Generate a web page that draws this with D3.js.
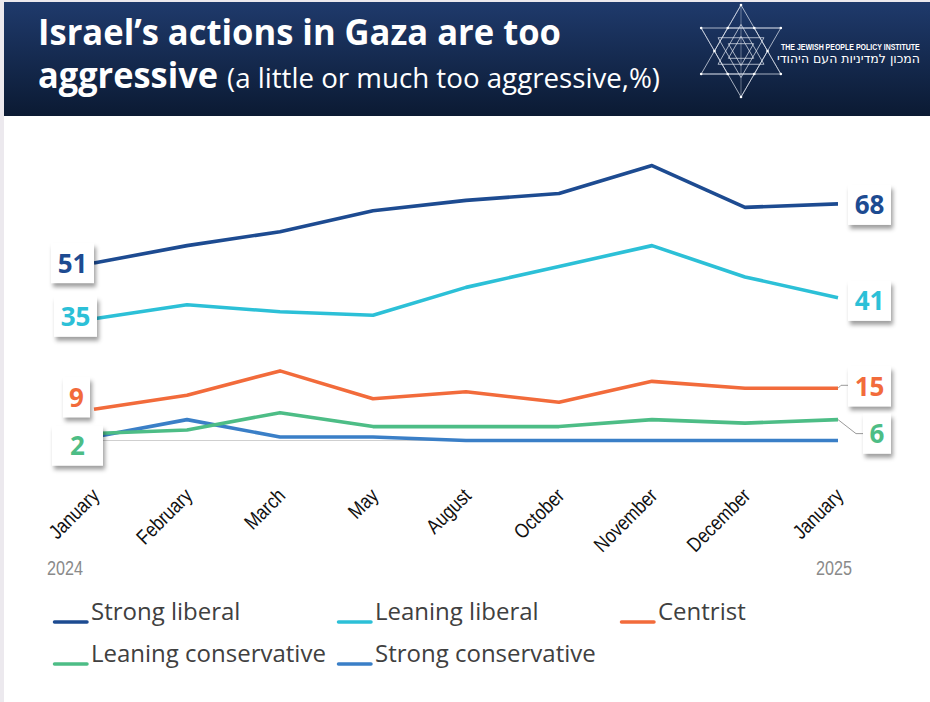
<!DOCTYPE html>
<html>
<head>
<meta charset="utf-8">
<script src="https://cdn.jsdelivr.net/npm/d3@7"></script>
<style>
  html, body { margin: 0; padding: 0; background: #ece9ee; }
  svg { display: block; }
</style>
</head>
<body>
<svg id="chart" width="930" height="702"></svg>
<script>
// Survey waves (Jan 2024 – Jan 2025)
const months = ["January", "February", "March", "May", "August", "October", "November", "December", "January"];
const yearLabels = ["2024", "2025"];

// Share who say Israel's actions are a little or much too aggressive (%)
const strongLiberal       = [51, 56, 60, 66, 69, 71, 79, 67, 68];
const leaningLiberal      = [35, 39, 37, 36, 44, 50, 56, 47, 41];
const centrist            = [9, 13, 20, 12, 14, 11, 17, 15, 15];
const leaningConservative = [2, 3, 8, 4, 4, 4, 6, 5, 6];
const strongConservative  = [1, 6, 1, 1, 0, 0, 0, 0, 0];

const seriesNames  = ["Strong liberal", "Leaning liberal", "Centrist", "Leaning conservative", "Strong conservative"];
const seriesColors = ["#1d4b91", "#2cc0d7", "#f26b3b", "#4dbd86", "#3a7fc7"];

const series = [strongLiberal, leaningLiberal, centrist, leaningConservative, strongConservative]
  .map((values, i) => ({ name: seriesNames[i], color: seriesColors[i], values }));

const svg = d3.select("#chart");
const W = 930, H = 702;

// ---------- panels ----------
const defs = svg.append("defs");
const grad = defs.append("linearGradient").attr("id", "hdr").attr("x1", 0).attr("y1", 0).attr("x2", 0).attr("y2", 1);
grad.append("stop").attr("offset", "0%").attr("stop-color", "#1f3a6c");
grad.append("stop").attr("offset", "100%").attr("stop-color", "#0b1a33");

const shadow = defs.append("filter").attr("id", "shadow")
  .attr("x", "-30%").attr("y", "-30%").attr("width", "170%").attr("height", "170%");
shadow.append("feDropShadow").attr("dx", 2).attr("dy", 4).attr("stdDeviation", 2.2)
  .attr("flood-color", "#000").attr("flood-opacity", 0.38);

svg.append("rect").attr("x", 4).attr("y", 116).attr("width", W - 4).attr("height", H - 116).attr("fill", "#ffffff");
svg.append("rect").attr("x", 4).attr("y", 2).attr("width", W - 4).attr("height", 114).attr("fill", "url(#hdr)");

// ---------- title ----------
const title = svg.append("g").attr("fill", "#ffffff").attr("font-family", "'Open Sans', sans-serif");
title.append("text").attr("x", 38).attr("y", 45)
  .attr("font-size", 35).attr("font-weight", 700)
  .attr("textLength", 523).attr("lengthAdjust", "spacingAndGlyphs")
  .text("Israel\u2019s actions in Gaza are too");
title.append("text").attr("x", 38).attr("y", 88)
  .attr("font-size", 35).attr("font-weight", 700)
  .attr("textLength", 180).attr("lengthAdjust", "spacingAndGlyphs")
  .text("aggressive");
title.append("text").attr("x", 227).attr("y", 88)
  .attr("font-size", 27).attr("font-weight", 400)
  .attr("textLength", 433).attr("lengthAdjust", "spacingAndGlyphs")
  .text("(a little or much too aggressive,%)");

// ---------- logo ----------
const logo = svg.append("g").attr("stroke", "rgba(225,230,240,0.8)").attr("stroke-width", 0.9).attr("fill", "none");
const cx = 741, cy = 51, R = 46;
const pt = (r, deg) => [cx + r * Math.cos(deg * Math.PI / 180), cy + r * Math.sin(deg * Math.PI / 180)];
const tri = (r, start) => [0, 120, 240].map(a => pt(r, start + a));
const poly = pts => "M" + pts.map(p => p.join(",")).join("L") + "Z";
logo.append("path").attr("d", poly(tri(R, -90)));
logo.append("path").attr("d", poly(tri(R, 90)));
const rIn = R / Math.sqrt(3);
logo.append("path").attr("d", poly(tri(rIn, -90)));
logo.append("path").attr("d", poly(tri(rIn, 90)));
const hex = d3.range(6).map(k => pt(rIn, k * 60));
logo.append("path").attr("d", poly(hex));
logo.append("path").attr("d", poly(tri(rIn * 0.55, -90)));
logo.append("path").attr("d", poly(tri(rIn * 0.55, 90)));
hex.forEach((p, k) => {
  const o = pt(R, k * 60 + 30);
  logo.append("line").attr("x1", p[0]).attr("y1", p[1]).attr("x2", o[0]).attr("y2", o[1]).attr("stroke-width", 0.6);
});
logo.append("line").attr("x1", cx).attr("y1", cy - R).attr("x2", cx).attr("y2", cy + R).attr("stroke-width", 0.5);
logo.selectAll("circle.v").data(tri(R, -90).concat(tri(R, 90), hex)).join("circle")
  .attr("cx", d => d[0]).attr("cy", d => d[1]).attr("r", 1.3).attr("fill", "#ffffff").attr("stroke", "none");

// institute name, squeezed horizontally to fit beside the star
const instName = svg.append("text").attr("fill", "#ffffff")
  .attr("font-family", "'Liberation Sans', sans-serif").attr("font-size", 9).attr("font-weight", 700)
  .text("THE JEWISH PEOPLE POLICY INSTITUTE");
const instW = instName.node().getComputedTextLength();
instName.attr("transform", `translate(781,50) scale(${139 / instW},1)`);
svg.append("text").attr("x", 920).attr("y", 63).attr("fill", "#ffffff").attr("text-anchor", "end")
  .attr("font-family", "'DejaVu Sans', sans-serif").attr("font-size", 12.5)
  .text("המכון למדיניות העם היהודי");

// ---------- scales ----------
const x = d3.scalePoint().domain(d3.range(months.length)).range([94, 838]);
const y = d3.scaleLinear().domain([0, 80]).range([440.5, 162.1]);

// zero baseline
svg.append("line").attr("x1", x(0)).attr("x2", x(months.length - 1))
  .attr("y1", Math.round(y(0)) - 0.5).attr("y2", Math.round(y(0)) - 0.5)
  .attr("stroke", "#cfcfcf").attr("stroke-width", 1);

// month axis (rotated, condensed labels)
const xAxis = d3.axisBottom(x).tickSize(0).tickFormat(i => months[i]);
const axisG = svg.append("g").attr("transform", "translate(0,440)").call(xAxis);
axisG.select(".domain").remove();
axisG.selectAll("text")
  .attr("font-family", "'Liberation Sans', sans-serif")
  .attr("font-size", 20.5).attr("fill", "#111")
  .attr("text-anchor", "end").attr("dy", 0).attr("y", 0)
  .attr("transform", "translate(6,57) rotate(-45) scale(0.84,1)");

// year labels under the first and last waves
svg.selectAll("text.year").data(yearLabels).join("text").attr("class", "year")
  .attr("x", (d, i) => i === 0 ? x(0) - 47 : x(months.length - 1) + 14)
  .attr("text-anchor", (d, i) => i === 0 ? "start" : "end")
  .attr("y", 575)
  .attr("font-family", "'Liberation Sans', sans-serif")
  .attr("font-size", 20).attr("fill", "#8a8a8a")
  .attr("textLength", 36).attr("lengthAdjust", "spacingAndGlyphs")
  .text(d => d);

// ---------- lines ----------
const line = d3.line().x((d, i) => x(i)).y(d => y(d));
svg.append("g").selectAll("path").data(series.slice().reverse()).join("path")
  .attr("d", d => line(d.values))
  .attr("fill", "none").attr("stroke", d => d.color)
  .attr("stroke-width", 3.6).attr("stroke-linejoin", "round");

// leader lines for the crowded end labels
const last = months.length - 1;
const leaders = svg.append("g").attr("stroke", "#9a9a9a").attr("stroke-width", 1).attr("fill", "none");
leaders.append("path").attr("d", `M${x(last)},${y(centrist[last])}L${x(last) + 3},${y(centrist[last]) - 3}H${x(last) + 10}`);
leaders.append("path").attr("d", `M${x(last)},${y(leaningConservative[last])}L${x(last) + 18},${y(leaningConservative[last]) + 14}H${x(last) + 25}`);

// ---------- value labels at both ends ----------
// per-series nudges to keep the boxes apart: [dy, box width, edge gap]
const startNudge = [[0, 43, 0], [-2, 43, -3], [-12, 27, 4], [12, 51, -9]];
const endNudge   = [[1, 43, 10], [3, 43, 10], [-2, 43, 10], [14, 28, 25]];

function valueLabel(s, idx, side, nudge) {
  const v = s.values[idx];
  const [dy, w, gap] = nudge;
  const h = 40;
  const cyL = y(v) + dy;
  const left = side === "start" ? x(idx) - gap - w : x(idx) + gap;
  const g = svg.append("g");
  g.append("rect").attr("x", left).attr("y", cyL - h / 2).attr("width", w).attr("height", h)
    .attr("fill", "#ffffff").attr("filter", "url(#shadow)");
  g.append("text").attr("x", left + w / 2).attr("y", cyL + 9.5)
    .attr("text-anchor", "middle")
    .attr("font-family", "'Open Sans', sans-serif").attr("font-weight", 700).attr("font-size", 26)
    .attr("fill", s.color).text(v);
}
series.slice(0, 4).forEach((s, i) => {
  valueLabel(s, 0, "start", startNudge[i]);
  valueLabel(s, last, "end", endNudge[i]);
});

// ---------- legend ----------
const legendCols = [53, 337, 620];
const legendRows = [620, 662];
const legend = svg.append("g").selectAll("g").data(series).join("g")
  .attr("transform", (d, i) => `translate(${legendCols[i % 3]},${legendRows[Math.floor(i / 3)]})`);
legend.append("line").attr("x1", 1.5).attr("x2", 34).attr("y1", 2).attr("y2", 2)
  .attr("stroke", d => d.color).attr("stroke-width", 3.5).attr("stroke-linecap", "round");
legend.append("text").attr("x", 38).attr("y", 0)
  .attr("font-family", "'Open Sans', sans-serif").attr("font-size", 24).attr("fill", "#404040")
  .text(d => d.name);
</script>
</body>
</html>
